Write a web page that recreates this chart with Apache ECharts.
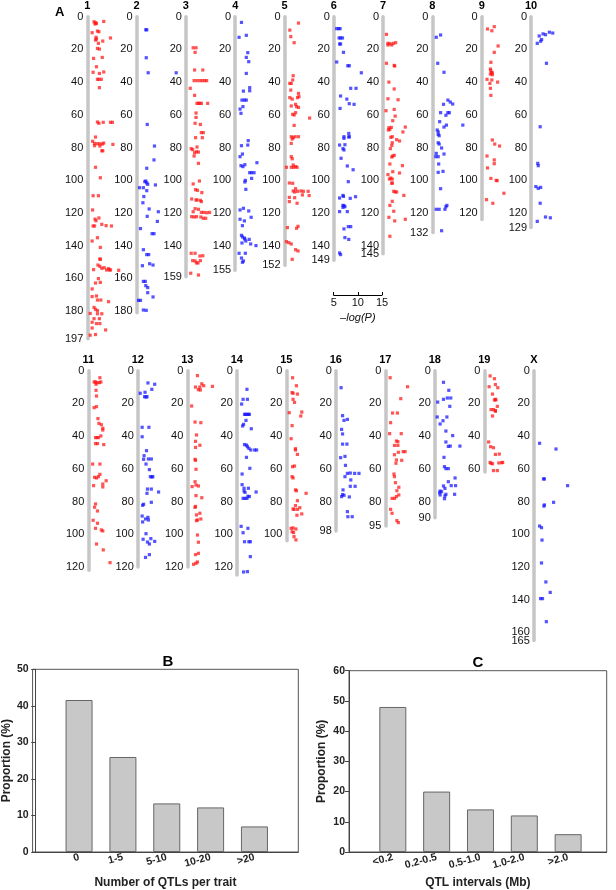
<!DOCTYPE html>
<html>
<head>
<meta charset="utf-8">
<title>QTL map</title>
<script src="https://cdn.jsdelivr.net/npm/echarts@6/dist/echarts.min.js"></script>
<style>
  html, body { margin: 0; padding: 0; background: #fff; }
  #main { width: 616px; height: 890px; }
</style>
</head>
<body>
<div id="main"></div>
<script>
  // ---- panel A : chromosomes ----
  const chrNames = ['1','2','3','4','5','6','7','8','9','10','11','12','13','14','15','16','17','18','19','X']
  const chrLengths = [197,181,159,155,152,149,145,132,124,129,122,120,120,125,104,98,95,90,62,165]
  const chrTicks = [
    [0,20,40,60,80,100,120,140,160,180,197],
    [0,20,40,60,80,100,120,140,160,180],
    [0,20,40,60,80,100,120,140,159],
    [0,20,40,60,80,100,120,140,155],
    [0,20,40,60,80,100,120,140,152],
    [0,20,40,60,80,100,120,140,149],
    [0,20,40,60,80,100,120,140,145],
    [0,20,40,60,80,100,120,132],
    [0,20,40,60,80,100,120],
    [0,20,40,60,80,100,120,129],
    [0,20,40,60,80,100,120],
    [0,20,40,60,80,100,120],
    [0,20,40,60,80,100,120],
    [0,20,40,60,80,100,120],
    [0,20,40,60,80,100],
    [0,20,40,60,80,98],
    [0,20,40,60,80,95],
    [0,20,40,60,80,90],
    [0,20,40,60],
    [0,20,40,60,80,100,120,140,160,165]
  ]
  const logPTicks = [5,10,15]

  // QTL peaks per chromosome: [-log(P), position]
  const qtl1 = [[6.4,3.1],[6.7,3.7],[6.6,4.5],[6.9,4.1],[8.4,2.9],[6.0,9.8],[7.1,8.8],[7.4,9.2],[6.8,12.6],[6.9,13.7],[6.7,14.3],[9.8,13.0],[8.2,14.9],[7.3,16.3],[7.1,19.4],[7.5,19.8],[6.3,25.5],[8.1,24.9],[6.9,30.6],[6.2,34.0],[7.5,34.7],[8.4,33.8],[7.1,38.3],[7.4,38.3],[7.9,38.3],[7.5,43.4],[7.1,64.4],[7.4,65.2],[8.3,64.6],[9.8,64.6],[10.2,64.6],[6.7,73.6],[6.1,76.2],[6.5,77.5],[7.1,77.7],[7.6,77.7],[8.1,77.9],[8.4,77.3],[10.3,78.1],[6.5,78.9],[7.6,79.1],[8.0,82.0],[8.2,82.0],[6.7,92.1],[7.7,98.5],[6.2,109.5],[7.3,109.5],[6.1,118.2],[6.6,123.8],[6.8,124.8],[7.4,123.1],[6.2,128.0],[6.5,128.0],[8.0,127.0],[8.9,127.8],[10.0,128.0],[6.0,137.2],[7.1,135.2],[7.7,141.1],[7.6,148.2],[7.7,148.4],[7.2,151.9],[7.6,152.7],[8.0,153.9],[8.5,153.5],[9.4,154.1],[9.6,154.9],[9.0,154.9],[9.8,154.9],[11.5,155.1],[6.3,154.7],[7.3,160.2],[6.7,162.9],[7.7,162.5],[6.0,166.5],[6.9,170.8],[6.0,171.2],[7.1,173.3],[7.8,173.3],[9.4,174.3],[6.4,177.8],[6.7,179.0],[7.1,179.8],[5.6,181.5],[7.1,181.7],[8.0,181.7],[6.4,184.7],[7.5,184.7],[6.0,186.9],[6.9,187.7],[7.6,187.7],[6.0,190.4],[8.8,191.6],[5.6,194.8],[6.7,194.4]]
  const qtl2 = [[6.9,8.0],[7.1,8.0],[7.0,25.1],[7.4,34.3],[13.2,34.3],[7.2,65.9],[8.7,79.1],[8.6,87.6],[7.1,92.7],[6.9,100.5],[6.7,100.9],[7.1,101.7],[7.3,102.5],[8.9,102.9],[5.6,104.6],[6.4,104.6],[7.1,106.4],[6.5,110.0],[6.3,113.8],[7.6,117.6],[9.5,119.3],[7.2,122.1],[9.3,125.2],[5.8,129.6],[8.2,132.7],[8.6,132.7],[6.4,142.5],[7.1,145.5],[7.5,145.5],[6.2,152.3],[7.7,151.1],[8.4,151.9],[6.4,161.9],[6.8,161.9],[6.9,164.5],[7.3,165.7],[7.3,168.8],[8.4,171.4],[5.4,173.5],[5.8,173.5],[6.4,179.4],[7.0,179.6]]
  const qtl3 = [[6.5,19.0],[7.1,19.0],[6.9,21.8],[6.8,32.6],[8.5,32.6],[6.7,39.1],[7.3,39.1],[7.9,39.1],[8.4,39.1],[8.9,39.1],[9.3,39.1],[5.9,43.8],[6.8,48.1],[7.3,53.0],[7.6,53.0],[7.9,53.0],[8.2,53.0],[9.5,53.0],[7.1,58.9],[7.1,61.6],[6.9,65.2],[8.0,65.9],[8.6,70.9],[8.2,70.9],[7.0,74.0],[8.4,74.0],[6.1,80.7],[7.3,79.7],[6.4,81.3],[6.8,83.2],[6.7,85.2],[7.2,82.6],[7.6,82.8],[7.6,89.7],[6.5,102.3],[7.8,100.5],[7.0,105.8],[7.4,106.2],[8.3,107.6],[6.2,111.5],[7.3,112.1],[8.0,112.3],[7.1,112.1],[8.2,113.1],[6.9,117.4],[7.6,117.8],[6.5,119.3],[8.2,119.7],[8.7,119.7],[9.3,119.9],[9.9,119.7],[6.2,122.3],[6.7,122.5],[7.2,122.3],[8.1,122.5],[8.6,123.3],[9.1,123.3],[6.1,144.7],[6.9,144.7],[7.9,146.4],[8.5,146.2],[6.4,149.2],[6.9,149.4],[8.0,149.2],[7.5,150.6],[7.2,150.6],[6.0,156.9],[7.6,158.0]]
  const qtl4 = [[6.3,3.5],[7.3,11.4],[5.8,12.6],[7.6,22.0],[7.3,24.9],[7.8,27.5],[7.3,34.7],[8.0,43.4],[8.0,45.3],[6.7,45.5],[6.4,51.0],[6.9,51.0],[7.3,51.0],[6.6,55.0],[6.0,56.5],[6.2,59.1],[7.7,75.8],[6.3,78.9],[7.6,78.5],[6.0,85.6],[6.5,84.0],[6.2,91.1],[7.0,90.5],[6.6,91.7],[9.5,89.3],[8.0,95.4],[8.4,95.4],[8.9,95.4],[8.4,98.9],[7.1,100.1],[7.0,101.1],[7.2,105.6],[6.0,118.2],[6.7,117.2],[7.8,118.8],[8.3,122.7],[6.0,123.9],[6.9,124.9],[6.5,127.8],[6.3,133.7],[6.5,134.7],[6.9,135.4],[7.0,136.0],[7.9,136.2],[7.2,137.2],[6.4,138.4],[8.2,139.0],[9.3,140.0],[5.8,144.7],[7.1,144.7],[6.3,147.6],[6.7,149.4],[6.5,150.2]]
  const qtl5 = [[7.9,3.9],[6.1,8.2],[6.3,12.2],[7.0,15.9],[6.8,36.1],[6.7,38.7],[6.4,40.8],[6.1,40.8],[6.3,44.9],[7.9,46.9],[8.0,48.9],[6.1,49.5],[6.6,50.4],[7.7,49.5],[6.4,54.6],[7.3,53.6],[7.5,55.0],[7.9,55.5],[7.3,58.7],[6.7,59.7],[7.0,60.1],[10.2,62.0],[7.0,66.5],[6.4,73.4],[6.8,74.0],[7.2,73.4],[7.9,73.4],[6.6,74.8],[6.4,77.5],[6.4,85.6],[6.6,86.9],[5.4,92.1],[6.4,92.1],[6.9,92.1],[7.3,91.7],[7.6,92.1],[6.8,90.7],[6.0,101.7],[6.7,101.9],[7.3,105.2],[6.8,106.6],[7.1,107.2],[7.7,106.8],[8.4,106.6],[8.9,106.8],[9.9,106.8],[10.1,109.4],[8.7,109.0],[6.0,110.5],[7.1,110.7],[6.0,113.1],[7.6,114.1],[5.6,129.0],[7.5,129.4],[7.8,128.2],[5.4,137.6],[5.9,138.2],[6.4,139.0],[7.3,142.5],[7.8,143.3],[6.6,148.4]]
  const qtl6 = [[5.6,7.3],[6.0,7.3],[6.3,7.3],[6.1,13.0],[6.4,13.0],[6.8,13.0],[6.2,16.7],[6.4,16.7],[7.0,21.8],[5.6,27.7],[7.9,30.0],[8.2,30.0],[10.7,34.3],[8.5,43.8],[9.6,43.8],[6.4,48.5],[7.7,50.4],[8.2,53.2],[9.2,53.6],[6.3,56.1],[8.1,71.4],[8.2,73.4],[7.1,73.4],[7.1,74.4],[8.1,73.6],[6.2,78.5],[7.3,78.3],[6.9,80.7],[7.1,81.5],[6.5,86.6],[7.8,91.3],[9.0,93.6],[8.0,100.9],[6.2,110.9],[7.0,109.9],[6.9,109.3],[8.4,111.1],[9.5,110.1],[6.9,115.4],[7.1,115.6],[7.3,116.2],[6.9,116.6],[6.2,119.2],[7.8,119.2],[7.1,129.8],[8.0,128.4],[8.5,128.4],[7.3,135.1],[8.1,136.2],[6.2,144.5],[6.4,145.5]]
  const qtl7 = [[5.7,10.8],[6.0,16.3],[6.0,17.3],[6.4,16.5],[7.1,16.3],[7.6,15.9],[6.8,17.3],[5.7,28.5],[7.3,29.8],[7.4,30.2],[6.2,40.0],[7.3,44.2],[6.0,50.2],[8.1,50.8],[7.3,56.7],[5.6,57.5],[7.5,60.8],[7.0,63.6],[6.2,67.9],[6.1,69.3],[6.4,68.9],[6.7,67.7],[9.6,67.5],[9.1,70.5],[6.6,73.8],[6.9,73.4],[7.8,75.2],[8.4,76.0],[6.9,77.1],[6.8,78.7],[6.5,80.7],[7.0,85.2],[7.3,84.8],[6.8,85.8],[6.4,90.1],[9.0,91.1],[7.0,94.8],[8.4,95.6],[6.0,96.6],[6.6,98.7],[6.3,99.3],[6.9,99.3],[6.9,101.7],[6.8,101.9],[7.2,106.8],[7.5,107.2],[7.8,107.2],[9.3,109.3],[6.9,112.9],[6.4,115.4],[7.2,119.0],[6.2,122.7],[7.4,124.9],[9.6,123.9],[6.4,134.3]]
  const qtl8 = [[6.7,11.2],[5.8,12.6],[6.1,28.5],[7.4,34.0],[8.2,51.0],[8.7,52.2],[9.2,53.4],[7.3,53.6],[8.2,58.7],[8.5,58.7],[6.7,58.7],[7.8,60.3],[6.5,64.2],[7.4,67.5],[7.9,66.3],[6.0,69.3],[6.2,70.5],[6.2,72.0],[6.4,72.8],[6.2,77.1],[6.4,77.9],[6.9,80.3],[5.8,83.6],[5.7,85.6],[6.2,85.6],[7.4,84.0],[11.3,66.3],[6.3,90.1],[7.2,94.6],[6.2,95.2],[6.7,105.2],[5.8,117.8],[6.4,117.8],[7.6,117.8],[8.0,115.4],[7.8,116.2],[6.9,130.9]]
  const qtl9 = [[7.6,6.1],[7.1,8.6],[6.2,7.5],[8.4,17.9],[7.6,21.8],[6.9,27.9],[6.8,32.0],[6.9,33.0],[7.0,34.3],[7.2,34.3],[6.8,35.1],[7.2,35.5],[6.1,38.3],[7.1,38.7],[8.3,40.0],[6.7,40.8],[6.8,43.8],[6.9,48.1],[7.2,75.4],[7.7,77.9],[8.7,79.1],[6.1,85.2],[7.6,87.6],[7.6,89.9],[6.2,92.5],[6.9,98.9],[8.0,100.1],[8.2,100.3],[9.6,108.0],[6.0,111.9],[7.3,114.1],[6.8,124.1]]
  const qtl10 = [[6.7,11.8],[6.3,16.3],[7.5,10.5],[8.0,11.0],[8.8,9.5],[9.5,10.0],[7.2,14.0],[7.0,15.0],[8.2,28.5],[6.9,67.3],[6.4,89.7],[6.5,91.1],[6.0,103.9],[6.5,105.0],[7.0,104.4],[6.9,114.1],[6.3,125.2],[8.0,122.5],[9.0,123.0]]
  const qtl11 = [[7.4,4.3],[6.2,6.9],[6.5,6.9],[6.8,7.3],[7.3,7.3],[7.6,6.9],[6.6,8.3],[6.6,12.0],[6.7,15.5],[6.2,22.6],[6.7,22.0],[7.0,29.3],[7.2,32.2],[7.7,33.0],[8.0,35.2],[8.0,36.3],[7.6,39.9],[6.5,40.9],[6.8,40.9],[7.1,40.9],[6.5,44.6],[6.9,44.6],[8.2,45.2],[5.9,57.1],[7.4,57.1],[7.4,63.4],[6.3,65.2],[6.7,65.6],[7.1,64.8],[8.7,67.3],[8.0,69.3],[8.0,71.1],[6.1,70.3],[6.5,81.5],[6.3,83.5],[6.9,85.8],[6.0,91.5],[6.9,93.3],[6.5,96.4],[7.7,97.4],[8.0,98.0],[6.7,106.0],[8.1,109.6],[9.5,117.4]]
  const qtl12 = [[7.1,7.5],[8.5,8.3],[7.9,11.4],[6.5,13.2],[5.5,13.8],[6.4,15.9],[6.7,16.1],[6.9,15.9],[5.9,34.6],[7.3,34.6],[5.9,40.4],[6.8,48.9],[6.3,52.0],[7.8,54.0],[7.2,54.0],[6.2,54.2],[6.7,57.1],[7.4,60.5],[7.6,64.8],[7.9,65.0],[8.1,64.8],[7.0,72.4],[7.8,72.4],[6.9,75.0],[9.3,74.2],[6.2,81.7],[6.0,82.3],[7.8,80.5],[5.9,88.9],[6.0,92.5],[6.6,90.7],[7.1,89.7],[7.2,91.3],[6.7,99.7],[6.1,103.1],[7.7,102.7],[7.0,104.8],[8.5,104.4],[7.4,106.0],[6.6,114.2],[7.4,112.5]]
  const qtl13 = [[7.1,3.0],[8.0,8.0],[8.4,9.2],[6.7,10.0],[7.6,10.0],[10.2,9.6],[7.3,11.6],[7.7,11.8],[5.9,21.6],[6.6,31.4],[7.8,31.8],[6.9,39.3],[6.7,43.2],[7.6,45.6],[6.7,46.9],[6.6,54.2],[6.7,54.8],[6.8,60.3],[6.6,67.9],[6.0,70.9],[6.8,69.9],[7.3,70.5],[6.8,76.4],[8.0,77.7],[6.7,83.0],[6.6,83.6],[7.6,87.2],[6.9,88.2],[7.8,90.7],[7.1,91.3],[6.9,91.7],[7.1,100.5],[7.3,104.9],[6.7,112.5],[7.3,111.7],[6.3,118.4],[7.1,117.0],[6.8,117.8]]
  const qtl14 = [[7.1,11.4],[6.3,17.5],[7.2,17.5],[6.0,20.4],[6.8,26.7],[7.1,26.7],[7.4,26.7],[6.6,26.7],[7.6,26.7],[6.9,30.4],[6.4,32.8],[6.2,33.8],[8.0,35.5],[6.6,45.2],[7.0,45.5],[7.2,46.5],[7.5,47.5],[7.9,48.5],[8.7,48.5],[9.1,48.5],[7.0,53.0],[7.7,59.7],[6.1,63.2],[6.1,69.7],[6.5,71.9],[7.4,71.9],[6.5,73.6],[6.7,74.4],[7.6,77.0],[7.3,76.8],[6.3,78.1],[6.7,78.1],[7.1,78.1],[9.0,74.2],[5.9,95.2],[6.3,99.1],[7.3,96.4],[6.6,104.6],[7.5,104.6],[7.8,104.6],[7.8,113.7],[6.4,123.1],[7.2,122.9]]
  const qtl15 = [[6.3,4.3],[7.1,9.2],[6.2,13.4],[6.4,13.8],[7.3,14.3],[6.4,17.5],[6.7,19.4],[5.6,25.7],[8.2,25.3],[8.0,27.7],[6.2,33.6],[6.0,41.6],[6.9,47.7],[6.9,48.5],[7.3,51.2],[6.3,58.7],[6.7,58.3],[6.2,64.8],[6.4,65.6],[6.9,72.9],[7.1,73.4],[9.1,75.0],[7.3,79.5],[6.9,82.5],[7.8,83.8],[6.4,84.6],[7.3,84.8],[6.6,84.8],[8.2,87.6],[7.2,88.4],[6.0,96.4],[6.4,96.2],[6.2,98.5],[6.5,99.0],[7.0,96.8],[6.6,101.5],[7.0,103.5]]
  const qtl16 = [[6.1,10.4],[6.4,27.5],[6.7,30.4],[7.4,29.8],[6.2,35.9],[6.4,38.7],[6.4,44.9],[7.3,44.9],[6.0,53.2],[6.9,52.4],[7.0,57.9],[8.0,62.6],[7.4,62.8],[8.9,62.8],[9.8,62.8],[6.9,64.8],[8.1,66.8],[8.0,70.7],[9.0,70.7],[6.5,72.9],[6.4,75.8],[6.2,77.0],[6.7,76.2],[7.8,77.2],[7.4,86.2],[7.5,89.3],[8.4,89.3]]
  const qtl17 = [[6.0,4.3],[9.6,9.8],[8.2,17.1],[6.5,25.9],[7.5,25.9],[6.1,31.8],[5.9,38.5],[8.3,38.5],[7.3,43.0],[7.6,43.4],[6.9,45.7],[7.6,45.7],[6.9,51.4],[8.7,49.5],[9.1,49.5],[7.7,49.9],[7.3,54.6],[8.4,54.8],[7.2,56.6],[6.8,63.2],[6.9,64.8],[7.1,68.5],[7.8,71.3],[7.4,73.4],[7.8,76.0],[6.4,78.1],[6.9,78.1],[7.3,77.0],[6.1,84.8],[6.4,87.2],[7.4,91.7],[7.7,92.9]]
  const qtl18 = [[6.8,7.1],[7.9,12.0],[6.8,17.5],[7.6,16.7],[8.3,16.7],[5.6,19.2],[8.1,21.8],[5.5,28.3],[7.5,28.3],[6.7,30.6],[6.1,32.6],[7.3,36.9],[8.7,39.7],[7.3,43.6],[7.8,46.3],[8.2,46.1],[10.2,46.1],[6.9,53.0],[7.0,58.7],[7.3,59.9],[7.8,59.9],[9.2,65.6],[7.8,67.9],[6.8,70.5],[8.4,70.3],[9.3,70.3],[7.1,72.0],[6.1,73.6],[6.4,74.0],[6.0,74.6],[7.3,75.6],[6.1,76.0],[7.1,76.6],[9.1,75.6],[7.0,78.3]]
  const qtl19 = [[6.2,3.2],[7.1,4.9],[7.3,8.5],[7.8,10.4],[6.0,9.8],[6.7,14.3],[7.3,17.5],[7.1,17.9],[7.4,17.9],[7.7,21.8],[6.4,23.8],[6.9,23.8],[7.3,24.4],[6.7,27.7],[7.3,24.8],[5.9,43.6],[6.3,46.5],[6.9,47.1],[7.3,51.2],[8.1,51.0],[6.2,56.1],[6.4,56.7],[6.7,56.9],[8.0,56.4],[8.6,56.3],[8.8,56.1],[6.9,61.1],[7.7,61.1]]
  const qtlX = [[6.2,44.4],[9.6,47.9],[7.0,66.2],[7.2,66.2],[12.0,70.3],[7.2,82.1],[7.1,82.8],[9.1,80.5],[6.2,95.0],[6.6,96.0],[6.7,103.6],[6.6,117.6],[7.5,129.2],[8.4,135.6],[6.4,139.4],[6.8,139.4],[7.6,153.5]]
  const qtlData = [qtl1,qtl2,qtl3,qtl4,qtl5,qtl6,qtl7,qtl8,qtl9,qtl10,qtl11,qtl12,qtl13,qtl14,qtl15,qtl16,qtl17,qtl18,qtl19,qtlX]

  // ---- panel B / C ----
  const countCats = ['0','1-5','5-10','10-20','>20']
  const countVals = [41.6, 26.0, 13.3, 12.2, 7.0]
  const intervalCats = ['<0.2','0.2-0.5','0.5-1.0','1.0-2.0','>2.0']
  const intervalVals = [48.0, 20.0, 14.1, 12.1, 5.9]

  const FONT = '"Liberation Sans", Arial, Helvetica, sans-serif'
  const RED = 'rgba(255,20,20,0.9)'
  const BLUE = 'rgba(20,20,255,0.9)'
  const cmPx = 1.635      // px per cM
  const logSpan = 48.3    // px for 10 units of -log(P)

  let grids = [], xAxes = [], yAxes = [], series = []
  let endAxes = []   // extra axes that only carry the chromosome length label

  const chrLabel = { fontFamily: FONT, fontSize: 11, color: '#111', margin: 4 }

  qtlData.forEach((pts, i) => {
    let row = i < 10 ? 0 : 1
    let col = i % 10
    let left = row === 0 ? 87.3 + col * 49.3 : 88.3 + col * 49.5
    let top = row === 0 ? 16.7 : 370.7
    let mainTicks = chrTicks[i].filter(v => v % 20 === 0)
    let endTicks = chrTicks[i].filter(v => v % 20 !== 0)
    grids.push({ left: left, top: top, width: logSpan, height: chrLengths[i] * cmPx })
    xAxes.push({ gridIndex: i, type: 'value', min: 5, max: 15, show: false })
    yAxes.push({
      gridIndex: i,
      type: 'value',
      position: 'left',
      inverse: true,
      min: 0,
      max: chrLengths[i],
      name: chrNames[i],
      nameLocation: 'start',
      nameGap: 4,
      nameTextStyle: { fontFamily: FONT, fontWeight: 'bold', fontSize: 11, color: '#000' },
      axisLine: { show: true, lineStyle: { color: '#c6c6c6', width: 3.5 } },
      axisTick: { show: false },
      splitLine: { show: false },
      axisLabel: Object.assign({ customValues: mainTicks, showMinLabel: true, showMaxLabel: true }, chrLabel)
    })
    if (endTicks.length) {
      endAxes.push({
        gridIndex: i,
        type: 'value',
        position: 'left',
        offset: 0,
        inverse: true,
        min: 0,
        max: chrLengths[i],
        axisLine: { show: false },
        axisTick: { show: false },
        splitLine: { show: false },
        axisLabel: Object.assign({ customValues: endTicks, showMaxLabel: true }, chrLabel)
      })
    }
    let isOdd = (i % 2 === 0) && i < 19
    series.push({
      type: 'scatter',
      xAxisIndex: i,
      yAxisIndex: i,
      symbol: 'rect',
      symbolSize: 3.2,
      itemStyle: { color: isOdd ? RED : BLUE },
      silent: true,
      data: pts
    })
  })

  // -log(P) scale bar
  let sIdx = grids.length
  grids.push({ left: 333.7, top: 290, width: logSpan, height: 5 })
  xAxes.push({
    gridIndex: sIdx, type: 'value', min: 5, max: 15, interval: 5,
    axisLine: { lineStyle: { color: '#000', width: 1 } },
    axisTick: { inside: true, length: 3, lineStyle: { color: '#000' } },
    splitLine: { show: false },
    axisLabel: { customValues: logPTicks, showMaxLabel: true, fontFamily: FONT, fontSize: 11, color: '#111', margin: 2 },
    name: '\u2013log(P)', nameLocation: 'middle', nameGap: 17,
    nameTextStyle: { fontFamily: FONT, fontStyle: 'italic', fontSize: 11, color: '#111' }
  })
  yAxes.push({ gridIndex: sIdx, type: 'value', show: false })

  // bar panels
  function barPanel(cats, vals, box, xMin, xMax, yMax, xName) {
    let gi = grids.length
    grids.push({ left: box[0], top: box[1], width: box[2], height: box[3], show: true, borderColor: '#555', borderWidth: 1 })
    xAxes.push({
      gridIndex: gi, type: 'value', min: xMin, max: xMax,
      axisLine: { lineStyle: { color: '#444' } },
      axisTick: { show: false },
      splitLine: { show: false },
      axisLabel: {
        customValues: [1,2,3,4,5],
        formatter: v => cats[Math.round(v) - 1],
        rotate: 15, margin: 5,
        fontFamily: FONT, fontWeight: 'bold', fontSize: 10.5, color: '#222'
      },
      name: xName, nameLocation: 'middle', nameGap: 25,
      nameTextStyle: { fontFamily: FONT, fontWeight: 'bold', fontSize: 12, color: '#222' }
    })
    yAxes.push({
      gridIndex: gi, type: 'value', min: 0, max: yMax, interval: 10,
      axisLine: { show: true, lineStyle: { color: '#444' } },
      axisTick: { show: true, length: 4, lineStyle: { color: '#444' } },
      splitLine: { show: false },
      axisLabel: { fontFamily: FONT, fontWeight: 'bold', fontSize: 10.5, color: '#222', margin: 4 },
      name: 'Proportion (%)', nameLocation: 'middle', nameGap: box[0] > 300 ? 21 : 19,
      nameTextStyle: { fontFamily: FONT, fontWeight: 'bold', fontSize: 12, color: '#222' }
    })
    series.push({
      type: 'bar',
      xAxisIndex: gi,
      yAxisIndex: gi,
      barWidth: 27,
      itemStyle: { color: '#c8c8c8', borderColor: '#666', borderWidth: 1 },
      silent: true,
      data: vals.map((v, k) => [k + 1, v])
    })
  }
  barPanel(countCats, countVals, [32.3, 669.3, 266, 185], -0.06, 6, 50, 'Number of QTLs per trait')
  barPanel(intervalCats, intervalVals, [349, 670.7, 257.7, 183.6], 0, 5.88, 60, 'QTL intervals (Mb)')

  let myChart = echarts.init(document.getElementById('main'), null, { renderer: 'canvas' })
  myChart.setOption({
    animation: false,
    backgroundColor: '#fff',
    title: [
      { text: 'A', left: 50, top: 1, textStyle: { fontFamily: FONT, fontWeight: 'bold', fontSize: 13, color: '#000' } },
      { text: 'B', left: 163, top: 649, textAlign: 'center', textStyle: { fontFamily: FONT, fontWeight: 'bold', fontSize: 15, color: '#000' } },
      { text: 'C', left: 473, top: 650, textAlign: 'center', textStyle: { fontFamily: FONT, fontWeight: 'bold', fontSize: 15, color: '#000' } }
    ],
    grid: grids,
    xAxis: xAxes,
    yAxis: yAxes.concat(endAxes),
    series: series
  })
</script>
</body>
</html>
